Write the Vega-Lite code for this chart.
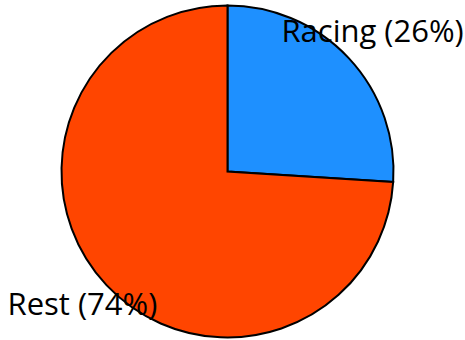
{
  "$schema": "https://vega.github.io/schema/vega-lite/v6.json",
  "width": 455,
  "height": 337,
  "autosize": "none",
  "padding": {"left": 0, "right": 10, "top": 3, "bottom": 0},
  "background": "white",
  "view": {"stroke": null},
  "data": {"values": [
    {"category": "Racing", "value": 26, "label": "Racing (26%)"},
    {"category": "Rest", "value": 74, "label": "Rest (74%)"}
  ]},
  "encoding": {
    "theta": {"field": "value", "type": "quantitative", "stack": true},
    "color": {"field": "category", "type": "nominal", "legend": null,
      "scale": {"domain": ["Racing", "Rest"], "range": ["#1E90FF", "#FF4500"]}}
  },
  "layer": [
    {"mark": {"type": "arc", "outerRadius": 166, "stroke": "black", "strokeWidth": 2}},
    {"mark": {"type": "text", "radius": 199, "fontSize": 31, "font": "Open Sans", "color": "black", "align": "center", "baseline": "middle", "dy": -2},
     "encoding": {"text": {"field": "label"}, "color": {"value": "black"}}}
  ]
}
